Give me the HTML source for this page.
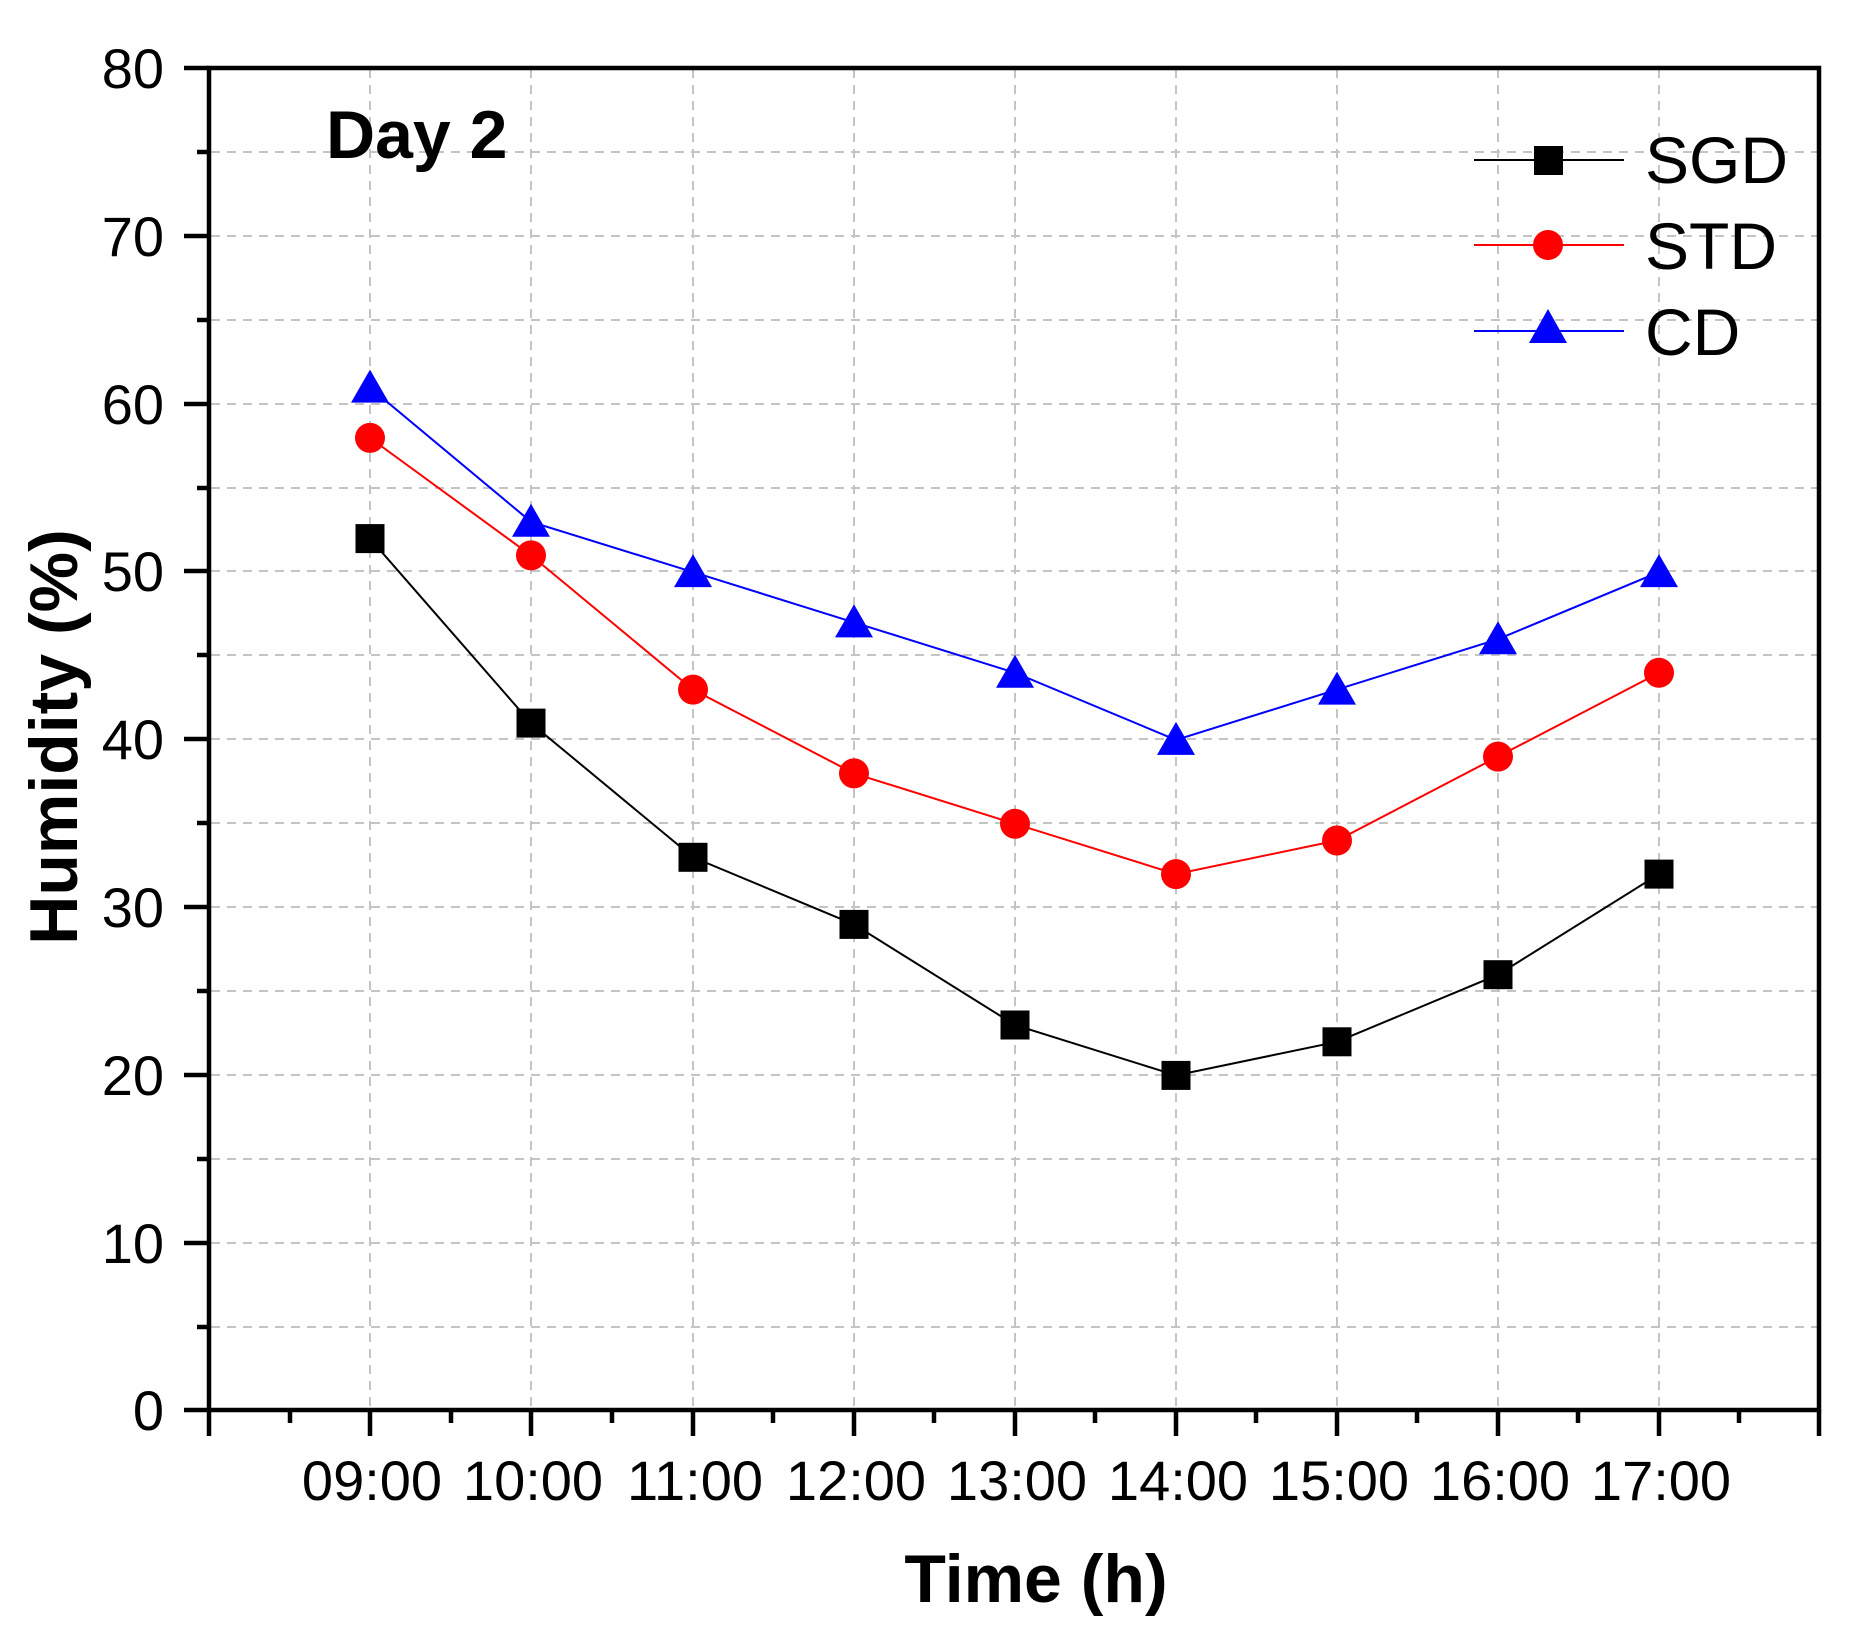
<!DOCTYPE html>
<html><head><meta charset="utf-8"><style>
html,body{margin:0;padding:0;background:#fff;}
svg{display:block;}
text{font-family:"Liberation Sans",Arial,sans-serif;}
</style></head><body>
<svg width="1862" height="1643" viewBox="0 0 1862 1643" xmlns="http://www.w3.org/2000/svg">
<g stroke="#c4c4c4" stroke-width="2" stroke-dasharray="9,7" fill="none">
<line x1="211" x2="1819" y1="152" y2="152"/><line x1="211" x2="1819" y1="236" y2="236"/>
<line x1="211" x2="1819" y1="320" y2="320"/><line x1="211" x2="1819" y1="404" y2="404"/>
<line x1="211" x2="1819" y1="488" y2="488"/><line x1="211" x2="1819" y1="571" y2="571"/>
<line x1="211" x2="1819" y1="655" y2="655"/><line x1="211" x2="1819" y1="739" y2="739"/>
<line x1="211" x2="1819" y1="823" y2="823"/><line x1="211" x2="1819" y1="907" y2="907"/>
<line x1="211" x2="1819" y1="991" y2="991"/><line x1="211" x2="1819" y1="1075" y2="1075"/>
<line x1="211" x2="1819" y1="1159" y2="1159"/><line x1="211" x2="1819" y1="1243" y2="1243"/>
<line x1="211" x2="1819" y1="1327" y2="1327"/>
<line x1="370" x2="370" y1="69" y2="1408"/><line x1="531" x2="531" y1="69" y2="1408"/>
<line x1="693" x2="693" y1="69" y2="1408"/><line x1="854" x2="854" y1="69" y2="1408"/>
<line x1="1015" x2="1015" y1="69" y2="1408"/><line x1="1176" x2="1176" y1="69" y2="1408"/>
<line x1="1337" x2="1337" y1="69" y2="1408"/><line x1="1498" x2="1498" y1="69" y2="1408"/>
<line x1="1659" x2="1659" y1="69" y2="1408"/>
</g>
<polyline fill="none" stroke="#000" stroke-width="2" points="370,538.6 531,723.1 693,857.3 854,924.4 1015,1025.0 1176,1075.4 1337,1041.8 1498,974.7 1659,874.1"/>
<polyline fill="none" stroke="#f00" stroke-width="2" points="370,437.9 531,555.4 693,689.6 854,773.4 1015,823.8 1176,874.1 1337,840.5 1498,756.6 1659,672.8"/>
<polyline fill="none" stroke="#00f" stroke-width="2" points="370,387.6 531,521.8 693,572.1 854,622.4 1015,672.8 1176,739.9 1337,689.6 1498,639.2 1659,572.1"/>
<g fill="#000">
<rect x="355.5" y="524.1" width="29" height="29"/><rect x="516.5" y="708.6" width="29" height="29"/>
<rect x="678.5" y="842.8" width="29" height="29"/><rect x="839.5" y="909.9" width="29" height="29"/>
<rect x="1000.5" y="1010.5" width="29" height="29"/><rect x="1161.5" y="1060.9" width="29" height="29"/>
<rect x="1322.5" y="1027.3" width="29" height="29"/><rect x="1483.5" y="960.2" width="29" height="29"/>
<rect x="1644.5" y="859.6" width="29" height="29"/>
</g>
<g fill="#f00">
<circle cx="370" cy="437.9" r="15"/><circle cx="531" cy="555.4" r="15"/><circle cx="693" cy="689.6" r="15"/>
<circle cx="854" cy="773.4" r="15"/><circle cx="1015" cy="823.8" r="15"/><circle cx="1176" cy="874.1" r="15"/>
<circle cx="1337" cy="840.5" r="15"/><circle cx="1498" cy="756.6" r="15"/><circle cx="1659" cy="672.8" r="15"/>
</g>
<g fill="#00f">
<polygon points="370,369.6 389,402.6 351,402.6"/><polygon points="531,503.8 550,536.8 512,536.8"/>
<polygon points="693,554.1 712,587.1 674,587.1"/><polygon points="854,604.4 873,637.4 835,637.4"/>
<polygon points="1015,654.8 1034,687.8 996,687.8"/><polygon points="1176,721.9 1195,754.9 1157,754.9"/>
<polygon points="1337,671.6 1356,704.6 1318,704.6"/><polygon points="1498,621.2 1517,654.2 1479,654.2"/>
<polygon points="1659,554.1 1678,587.1 1640,587.1"/>
</g>
<g stroke="#000" stroke-width="4.5" fill="none">
<rect x="209" y="68" width="1610" height="1342"/>
</g>
<g stroke="#000" stroke-width="4.5">
<line x1="184" x2="209" y1="68" y2="68"/><line x1="184" x2="209" y1="236" y2="236"/>
<line x1="184" x2="209" y1="404" y2="404"/><line x1="184" x2="209" y1="571" y2="571"/>
<line x1="184" x2="209" y1="739" y2="739"/><line x1="184" x2="209" y1="907" y2="907"/>
<line x1="184" x2="209" y1="1075" y2="1075"/><line x1="184" x2="209" y1="1243" y2="1243"/>
<line x1="184" x2="209" y1="1410" y2="1410"/>
<line x1="197" x2="209" y1="152" y2="152"/><line x1="197" x2="209" y1="320" y2="320"/>
<line x1="197" x2="209" y1="488" y2="488"/><line x1="197" x2="209" y1="655" y2="655"/>
<line x1="197" x2="209" y1="823" y2="823"/><line x1="197" x2="209" y1="991" y2="991"/>
<line x1="197" x2="209" y1="1159" y2="1159"/><line x1="197" x2="209" y1="1327" y2="1327"/>
<line x1="209" x2="209" y1="1410" y2="1436"/><line x1="370" x2="370" y1="1410" y2="1436"/>
<line x1="531" x2="531" y1="1410" y2="1436"/><line x1="693" x2="693" y1="1410" y2="1436"/>
<line x1="854" x2="854" y1="1410" y2="1436"/><line x1="1015" x2="1015" y1="1410" y2="1436"/>
<line x1="1176" x2="1176" y1="1410" y2="1436"/><line x1="1337" x2="1337" y1="1410" y2="1436"/>
<line x1="1498" x2="1498" y1="1410" y2="1436"/><line x1="1659" x2="1659" y1="1410" y2="1436"/>
<line x1="1819" x2="1819" y1="1410" y2="1436"/>
<line x1="290" x2="290" y1="1410" y2="1423"/><line x1="451" x2="451" y1="1410" y2="1423"/>
<line x1="612" x2="612" y1="1410" y2="1423"/><line x1="773" x2="773" y1="1410" y2="1423"/>
<line x1="934" x2="934" y1="1410" y2="1423"/><line x1="1095" x2="1095" y1="1410" y2="1423"/>
<line x1="1256" x2="1256" y1="1410" y2="1423"/><line x1="1417" x2="1417" y1="1410" y2="1423"/>
<line x1="1578" x2="1578" y1="1410" y2="1423"/><line x1="1739" x2="1739" y1="1410" y2="1423"/>
</g>
<g font-size="56" text-anchor="end" fill="#000">
<text x="164" y="88">80</text><text x="164" y="256">70</text><text x="164" y="424">60</text>
<text x="164" y="591">50</text><text x="164" y="759">40</text><text x="164" y="927">30</text>
<text x="164" y="1095">20</text><text x="164" y="1263">10</text><text x="164" y="1430">0</text>
</g>
<g font-size="56" text-anchor="middle" fill="#000">
<text x="372" y="1500">09:00</text><text x="533" y="1500">10:00</text><text x="695" y="1500">11:00</text>
<text x="856" y="1500">12:00</text><text x="1017" y="1500">13:00</text><text x="1178" y="1500">14:00</text>
<text x="1339" y="1500">15:00</text><text x="1500" y="1500">16:00</text><text x="1661" y="1500">17:00</text>
</g>
<text x="1036" y="1602" font-size="68" font-weight="bold" text-anchor="middle">Time (h)</text>
<text transform="translate(77,737) rotate(-90)" font-size="68" font-weight="bold" text-anchor="middle">Humidity (%)</text>
<text x="326" y="158" font-size="68" font-weight="bold">Day 2</text>
<line x1="1474" x2="1624" y1="160" y2="160" stroke="#000" stroke-width="2"/>
<rect x="1534" y="146" width="29" height="29" fill="#000"/>
<text x="1645" y="183" font-size="66">SGD</text>
<line x1="1474" x2="1624" y1="245" y2="245" stroke="#f00" stroke-width="2"/>
<circle cx="1548" cy="245" r="15" fill="#f00"/>
<text x="1645" y="269" font-size="66">STD</text>
<line x1="1474" x2="1624" y1="331" y2="331" stroke="#00f" stroke-width="2"/>
<polygon points="1548,309 1567,343 1529,343" fill="#00f"/>
<text x="1645" y="355" font-size="66">CD</text>
</svg>
</body></html>
